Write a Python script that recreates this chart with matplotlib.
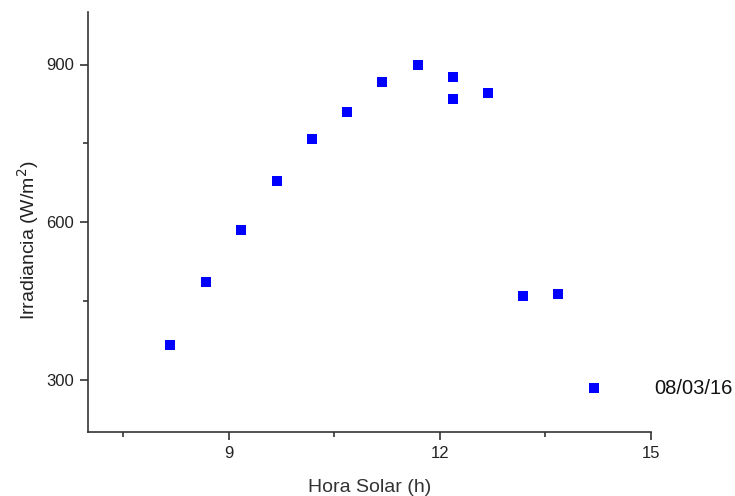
import matplotlib
matplotlib.use("Agg")
import matplotlib.pyplot as plt
from matplotlib.ticker import MultipleLocator

hora_solar = [8.17, 8.67, 9.17, 9.68, 10.18, 10.68, 11.18, 11.69, 12.19, 12.19, 12.68, 13.18, 13.68, 14.19]
irradiancia = [365, 485, 585, 678, 759, 810, 867, 900, 877, 835, 845, 460, 462, 283]
fecha = "08/03/16"

plt.rcParams['font.family'] = ['Liberation Sans', 'DejaVu Sans']

fig = plt.figure(figsize=(7.35, 4.96), dpi=100)
ax = fig.add_axes([88/735, 1-432/496, (651-88)/735, (432-12)/496])

ax.scatter(hora_solar, irradiancia, marker='s', s=44, color='#0000ff', linewidths=0, zorder=3)

ax.set_xlim(7, 15)
ax.set_ylim(200, 1000)
ax.set_xticks([9, 12, 15])
ax.set_yticks([300, 600, 900])
ax.xaxis.set_minor_locator(MultipleLocator(1.5))
ax.yaxis.set_minor_locator(MultipleLocator(150))

for s in ['top', 'right']:
    ax.spines[s].set_visible(False)
for s in ['left', 'bottom']:
    ax.spines[s].set_color('#333333')
    ax.spines[s].set_linewidth(1.2)

ax.tick_params(which='major', direction='out', length=6, width=1.2, color='#333333',
               labelsize=12, labelcolor='#222222', pad=4)
ax.tick_params(which='minor', direction='out', length=3.5, width=1.2, color='#333333')

ax.set_xlabel('Hora Solar (h)', fontsize=14, color='#333333', labelpad=13)
ax.set_ylabel('Irradiancia (W/m$^2$)', fontsize=14, color='#222222')
ax.yaxis.set_label_coords(-0.084, 0.457)

ax.text(1.005, 283, fecha, transform=ax.get_yaxis_transform(), fontsize=14.5,
        va='center', ha='left', clip_on=False, color='#111111')

fig.savefig('out.png', dpi=100)
